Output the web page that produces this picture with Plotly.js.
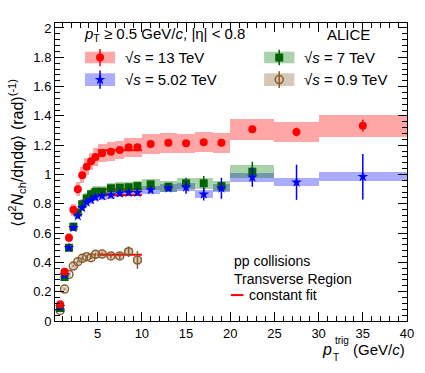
<!DOCTYPE html>
<html>
<head>
<meta charset="utf-8">
<script src="https://cdn.plot.ly/plotly-3.0.1.min.js"></script>
<style>html,body{margin:0;padding:0;background:#fff;}#chart{width:425px;height:373px;}</style>
</head>
<body>
<div id="chart"></div>
<script>
// ---- data ----
const binLow  = [0.5,1,1.5,2,2.5,3,3.5,4,4.5,5,6,7,8,9,10,12,14,16,18,20,25,30];
const binHigh = [1,1.5,2,2.5,3,3.5,4,4.5,5,6,7,8,9,10,12,14,16,18,20,25,30,40];
const ptCenters = [0.75,1.25,1.75,2.25,2.75,3.25,3.75,4.25,4.75,5.5,6.5,7.5,8.5,9.5,11,13,15,17,19,22.5,27.5,35];

const y13   = [0.115,0.336,0.569,0.760,0.900,0.994,1.053,1.090,1.120,1.145,1.156,1.167,1.186,1.186,1.208,1.217,1.213,1.220,1.217,1.308,1.290,1.333];
const st13  = [0.004,0.004,0.004,0.004,0.004,0.004,0.004,0.004,0.004,0.005,0.005,0.006,0.006,0.007,0.007,0.008,0.010,0.012,0.014,0.018,0.030,0.040];
const sy13  = [0.006,0.018,0.031,0.042,0.050,0.055,0.058,0.060,0.062,0.063,0.064,0.064,0.065,0.065,0.066,0.067,0.066,0.067,0.067,0.070,0.071,0.074];

const y502  = [0.098,0.314,0.500,0.636,0.717,0.773,0.810,0.826,0.844,0.853,0.860,0.872,0.876,0.876,0.894,0.906,0.913,0.865,0.906,0.981,0.947,0.985];
const st502 = [0.003,0.003,0.003,0.003,0.003,0.004,0.004,0.004,0.005,0.006,0.008,0.010,0.012,0.014,0.016,0.020,0.045,0.043,0.072,0.065,0.120,0.155];
const sy502 = [0.004,0.010,0.015,0.019,0.021,0.023,0.024,0.024,0.025,0.025,0.025,0.026,0.026,0.026,0.027,0.027,0.027,0.026,0.027,0.029,0.028,0.030];

const y7    = [0.088,0.300,0.500,0.644,0.740,0.797,0.837,0.865,0.883,0.883,0.906,0.910,0.913,0.921,0.933,0.917,0.940,0.940,0.921,1.019];
const st7   = [0.003,0.003,0.003,0.003,0.003,0.004,0.004,0.004,0.005,0.006,0.007,0.008,0.010,0.012,0.015,0.020,0.038,0.050,0.020,0.068];
const sy7   = [0.006,0.014,0.022,0.028,0.032,0.034,0.035,0.036,0.036,0.036,0.036,0.036,0.036,0.036,0.037,0.036,0.036,0.036,0.036,0.043];

const y09   = [0.072,0.218,0.318,0.375,0.405,0.428,0.439,0.432,0.455,0.457,0.444,0.444,0.473,0.416];
const st09  = [0.004,0.004,0.004,0.005,0.006,0.007,0.008,0.009,0.010,0.012,0.015,0.022,0.036,0.060];
const sy09  = [0.006,0.014,0.018,0.020,0.020,0.021,0.021,0.021,0.022,0.022,0.022,0.022,0.023,0.021];

const fitRange = [5, 10];
const fit13 = 1.165, fit7 = 0.900, fit502 = 0.860, fit09 = 0.452;

const xTicks = [5,10,15,20,25,30,35,40];

// ---- build ----
function sysBars(yv, sy, color, n){
  const xs=[],ws=[],bs=[],hs=[];
  for(let i=0;i<n;i++){
    xs.push((binLow[i]+binHigh[i])/2);
    ws.push(binHigh[i]-binLow[i]);
    bs.push(yv[i]-sy[i]);
    hs.push(2*sy[i]);
  }
  return {type:'bar',x:xs,y:hs,base:bs,width:ws,marker:{color:color,line:{width:0}},hoverinfo:'skip',showlegend:false};
}
function pts(yv, st, n, marker, color){
  return {type:'scatter',mode:'markers',x:ptCenters.slice(0,n),y:yv,
    error_y:{type:'data',array:st,visible:true,color:color,thickness:1.5,width:0},
    marker:marker,showlegend:false,hoverinfo:'skip',cliponaxis:true};
}
function fitLine(v){
  return {type:'scatter',mode:'lines',x:fitRange,y:[v,v],line:{color:'#ff0000',width:2},showlegend:false,hoverinfo:'skip'};
}

const cRedBox='rgba(255,0,0,0.35)', cBlueBox='rgba(0,0,255,0.33)', cGreenBox='rgba(0,120,0,0.33)', cBrownBox='rgba(140,95,50,0.35)';
const cRed='#ff0000', cBlue='#0000ff', cGreen='#006400', cBrown='#8b5a2b';

const mRed={symbol:'circle',size:8,color:cRed};
const mBlue={symbol:'star',size:8,color:cBlue,line:{width:0}};
const mGreen={symbol:'square',size:8,color:cGreen};
const mBrown={symbol:'circle-open',size:8,color:cBrown,line:{width:1.5,color:cBrown}};

const data = [
  sysBars(y13, sy13, cRedBox, y13.length),
  sysBars(y502, sy502, cBlueBox, y502.length),
  sysBars(y7, sy7, cGreenBox, y7.length),
  sysBars(y09, sy09, cBrownBox, y09.length),
  fitLine(fit13), fitLine(fit7), fitLine(fit502), fitLine(fit09),
  pts(y09, st09, y09.length, mBrown, cBrown),
  pts(y7, st7, y7.length, mGreen, cGreen),
  pts(y502, st502, y502.length, mBlue, cBlue),
  pts(y13, st13, y13.length, mRed, cRed),
  // legend glyph markers (overlay axes in paper fractions)
  {type:'scatter',mode:'markers',xaxis:'x2',yaxis:'y2',x:[0.128],y:[0.884],marker:mRed,showlegend:false,hoverinfo:'skip'},
  {type:'scatter',mode:'markers',xaxis:'x2',yaxis:'y2',x:[0.128],y:[0.810],marker:mBlue,showlegend:false,hoverinfo:'skip'},
  {type:'scatter',mode:'markers',xaxis:'x2',yaxis:'y2',x:[0.637],y:[0.884],marker:mGreen,showlegend:false,hoverinfo:'skip'},
  {type:'scatter',mode:'markers',xaxis:'x2',yaxis:'y2',x:[0.637],y:[0.810],marker:mBrown,showlegend:false,hoverinfo:'skip'}
];

const font = {family:'"Liberation Sans", Arial, Helvetica, sans-serif', color:'#000'};
function F(s){return Object.assign({size:s},font);}
function legBox(x0,x1,y0,y1,c){return {type:'rect',xref:'paper',yref:'paper',x0:x0,x1:x1,y0:y0,y1:y1,fillcolor:c,line:{width:0},layer:'below'};}
function legBar(x,y0,y1,c){return {type:'line',xref:'paper',yref:'paper',x0:x,x1:x,y0:y0,y1:y1,line:{color:c,width:1.5}};}
function txt(x,y,t,s,xa){return {xref:'paper',yref:'paper',x:x,y:y,xanchor:xa||'left',yanchor:'middle',showarrow:false,text:t,font:F(s)};}

const layout = {
  width:425, height:373,
  margin:{l:55,r:18,t:23,b:52},
  paper_bgcolor:'#fff', plot_bgcolor:'#fff',
  font:F(13),
  barmode:'overlay', bargap:0,
  showlegend:false,
  xaxis:{range:[0.17,40], tickvals:xTicks, ticks:'inside', ticklen:9, tickwidth:1, tickcolor:'#000',
    minor:{dtick:1, tick0:0, ticks:'inside', ticklen:5, tickcolor:'#000'},
    showline:true, linecolor:'#000', linewidth:1, mirror:'allticks', showgrid:false, zeroline:false,
    tickfont:F(13)},
  yaxis:{range:[0,2.034], dtick:0.2, tick0:0, ticks:'inside', ticklen:9, tickwidth:1, tickcolor:'#000',
    minor:{dtick:0.04, tick0:0, ticks:'inside', ticklen:5, tickcolor:'#000'},
    showline:true, linecolor:'#000', linewidth:1, mirror:'allticks', showgrid:false, zeroline:false,
    tickfont:F(13)},
  xaxis2:{overlaying:'x', range:[0,1], visible:false, anchor:'y2'},
  yaxis2:{overlaying:'y', range:[0,1], visible:false, anchor:'x2'},
  shapes:[
    legBox(0.0853,0.1706,0.8648,0.9037,cRedBox), legBar(0.128,0.855,0.913,cRed),
    legBox(0.0853,0.1706,0.7886,0.8312,cBlueBox), legBar(0.128,0.779,0.841,cBlue),
    legBox(0.594,0.680,0.8648,0.9037,cGreenBox), legBar(0.637,0.858,0.910,cGreen),
    legBox(0.594,0.680,0.7886,0.8312,cBrownBox), legBar(0.637,0.782,0.838,cBrown),
    {type:'line',xref:'paper',yref:'paper',x0:0.4996,x1:0.5354,y0:0.087,y1:0.087,line:{color:'#ff0000',width:2}}
  ],
  annotations:[
    txt(0.078,0.96,'<i>p</i><sub>T</sub> ≥ 0.5 GeV/<i>c</i>, |η| &lt; 0.8',15),
    txt(0.833,0.96,'ALICE',15,'center'),
    txt(0.193,0.884,'√<i>s</i> = 13 TeV',15),
    txt(0.193,0.810,'√<i>s</i> = 5.02 TeV',15),
    txt(0.702,0.884,'√<i>s</i> = 7 TeV',15),
    txt(0.702,0.810,'√<i>s</i> = 0.9 TeV',15),
    txt(0.502,0.200,'pp collisions',14),
    txt(0.502,0.142,'Transverse Region',14),
    txt(0.545,0.087,'constant fit',14),
    // y title
    {xref:'paper',yref:'paper',x:-0.108,y:0.565,xanchor:'center',yanchor:'middle',showarrow:false,textangle:-90,
      text:'⟨d<sup>2</sup><i>N</i><sub>ch</sub>/dηdφ⟩ (rad)<sup>(-1)</sup>',font:F(16)},
    // x title
    txt(1.0,-0.094,'(GeV/<i>c</i>)',15,'right'),
    txt(0.792,-0.094,'<i>p</i>',16,'right'),
    txt(0.789,-0.067,'trig',10),
    txt(0.784,-0.122,'T',10)
  ]
};

Plotly.newPlot('chart', data, layout, {staticPlot:true, displayModeBar:false});
</script>
</body>
</html>
